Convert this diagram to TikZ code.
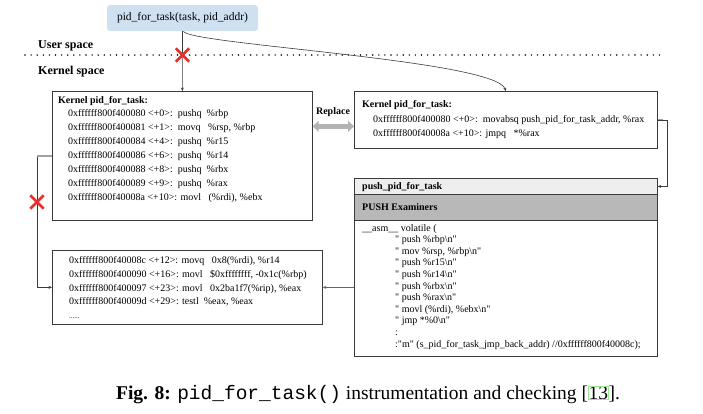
\documentclass[tikz,border=0pt]{standalone}
\usepackage{fontspec}
\setmainfont{Liberation Serif}
\setmonofont{Liberation Mono}
\usetikzlibrary{arrows.meta,shapes.misc}

\definecolor{callblue}{HTML}{CFE0F1}
\definecolor{headlight}{HTML}{EEEEEE}
\definecolor{headdark}{HTML}{B8B8B8}
\definecolor{boxline}{HTML}{3A3A3A}
\definecolor{crossred}{HTML}{E8302A}
\definecolor{backgreen}{HTML}{4F7B35}
\definecolor{linkgray}{HTML}{A0A0A0}
\definecolor{linkgreen}{HTML}{9BE58F}

\newcommand{\dq}{\textquotedbl}

\tikzset{
  codebox/.style={draw=boxline, line width=0.7pt, anchor=north west, inner sep=0pt},
  codeline/.style={anchor=base west, inner sep=0pt, font=\fontsize{10}{12}\selectfont},
  codetitle/.style={anchor=base west, inner sep=0pt, font=\fontsize{10}{12}\selectfont\bfseries},
  callbox/.style={fill=callblue, rounded corners=3pt, minimum width=151pt, minimum height=26pt,
    inner sep=0pt, font=\fontsize{11.5}{13}\selectfont},
  spacelbl/.style={anchor=base west, inner sep=0pt, font=\fontsize{12}{14}\selectfont\bfseries},
  conn/.style={draw=boxline, line width=0.6pt, -{Stealth[length=3.5pt,width=3pt]}},
  cut/.style={cross out, draw=crossred, line width=2.8pt, minimum size=10.5pt, inner sep=0pt},
}

\begin{document}
\begin{tikzpicture}[x=1pt, y=-1pt]
  \useasboundingbox (0,0) rectangle (703,413);

  % user / kernel split
  \node[callbox] (call) at (182.5,18) {pid\_for\_task(task, pid\_addr)};
  \node[spacelbl] (user) at (38,48) {User space};
  \node[spacelbl] (kernel) at (38,74) {Kernel space};
  \coordinate (sepL) at (25,55);
  \coordinate (sepR) at (663,55);
  \draw[line width=1.6pt, line cap=round, dash pattern=on 0pt off 6.1pt] (sepL) -- (sepR);

  % boxes
  \node[codebox, minimum width=260pt, minimum height=129pt] (k1) at (52,91) {};
  \node[codebox, minimum width=303pt, minimum height=57pt] (k2) at (354,91) {};
  \node[codebox, fill=headlight, minimum width=303pt, minimum height=16pt] (k3head) at (354,178) {};
  \node[codebox, fill=headdark, minimum width=303pt, minimum height=26pt] (k3sub) at (354,194) {};
  \node[codebox, minimum width=303pt, minimum height=136pt] (k3body) at (354,220) {};
  \node[codebox, minimum width=270pt, minimum height=74pt] (k4) at (52,250) {};

  % original kernel function
  \node[codetitle] (k1t) at (58,103.5) {Kernel pid\_for\_task:};
  \foreach \ln [count=\i from 0] in {%
      {0xffffff800f400080 <+0>:\ \ pushq\ \ \%rbp},
      {0xffffff800f400081 <+1>:\ \ movq\ \ \ \%rsp, \%rbp},
      {0xffffff800f400084 <+4>:\ \ pushq\ \ \%r15},
      {0xffffff800f400086 <+6>:\ \ pushq\ \ \%r14},
      {0xffffff800f400088 <+8>:\ \ pushq\ \ \%rbx},
      {0xffffff800f400089 <+9>:\ \ pushq\ \ \%rax},
      {0xffffff800f40008a <+10>: movl\ \ \ (\%rdi), \%ebx}}{
    \node[codeline] (k1l\i) at (68,116.5+\i*14) {\ln};
  }

  % patched entry
  \node[codetitle] (k2t) at (362,107.5) {Kernel pid\_for\_task:};
  \node[codeline] (k2l0) at (373,122.5) {0xffffff800f400080 <+0>:\ \ movabsq push\_pid\_for\_task\_addr, \%rax};
  \node[codeline] (k2l1) at (373,136.5) {0xffffff800f40008a <+10>: jmpq\ \ \ *\%rax};

  % trampoline
  \node[codetitle] (k3t) at (362,189.5) {push\_pid\_for\_task};
  \node[codetitle] (k3s) at (362,210.5) {PUSH Examiners};
  \node[codeline] (k3l) at (362,231) {\_\_asm\_\_\ volatile (};
  \foreach \ln [count=\i from 1] in {%
      {\dq\ push \%rbp\textbackslash n\dq},
      {\dq\ mov \%rsp, \%rbp\textbackslash n\dq},
      {\dq\ push \%r15\textbackslash n\dq},
      {\dq\ push \%r14\textbackslash n\dq},
      {\dq\ push \%rbx\textbackslash n\dq},
      {\dq\ push \%rax\textbackslash n\dq},
      {\dq\ movl (\%rdi), \%ebx\textbackslash n\dq},
      {\dq\ jmp *\%0\textbackslash n\dq},
      {:},
      {:\dq m\dq\ (s\_pid\_for\_task\_jmp\_back\_addr) //0xffffff800f40008c);}}{
    \node[codeline] (k3l\i) at (395,231+\i*11.6) {\ln};
  }

  % rest of kernel function
  \foreach \ln [count=\i from 0] in {%
      {0xffffff800f40008c <+12>: movq\ \ \ 0x8(\%rdi), \%r14},
      {0xffffff800f400090 <+16>: movl\ \ \ \$0xffffffff, -0x1c(\%rbp)},
      {0xffffff800f400097 <+23>: movl\ \ \ 0x2ba1f7(\%rip), \%eax},
      {0xffffff800f40009d <+29>: testl\ \ \%eax, \%eax}}{
    \node[codeline] (k4l\i) at (69,263.5+\i*13.8) {\ln};
  }
  \node[codeline, font=\fontsize{7}{8}\selectfont] (k4dots) at (69,318.7) {......};

  % connectors
  \draw[conn] (call.south) -- (k1.north);
  \draw[conn] ([xshift=1pt]call.south) .. controls +(3,13) and +(-10.5,-31) .. (k2.north);
  \draw[draw=linkgray!80, line width=5pt, {Triangle[length=6pt,width=11pt]}-{Triangle[length=6pt,width=11pt]}]
    ([yshift=-6.5pt]k1.east |- k2.west) -- ([yshift=-6.5pt]k2.west);
  \node[codetitle, anchor=base] (rep) at (333,114) {Replace};
  \draw[conn] (k2.east) -- ++(10,0) |- (k3head.east);
  \draw[draw=linkgray, line width=1.2pt] (k2.east) -- ++(5,0);
  \draw[conn, draw=backgreen] (k3body.west |- k4.east) -- (k4.east);
  \coordinate (bend) at ([xshift=-15pt]k1.west);
  \draw[conn] (k1.west) -- (bend) |- (k4.west);
  \draw[draw=linkgray, line width=1.6pt] (k1.west) -- (bend);

  % blocked paths
  \node[cut] (cut1) at (call.south |- sepL) {};
  \node[cut] (cut2) at (bend |- 0,202) {};

  % caption
  \node[anchor=base, inner sep=0pt, font=\fontsize{19.5}{22}\selectfont] (cap) at (368,399)
    {\textbf{Fig. 8:} {\ttfamily pid\_for\_task()} instrumentation and checking
     [{\setlength\fboxsep{0pt}\setlength\fboxrule{0.5pt}\fcolorbox{linkgreen}{white}{13}}].};
\end{tikzpicture}
\end{document}
